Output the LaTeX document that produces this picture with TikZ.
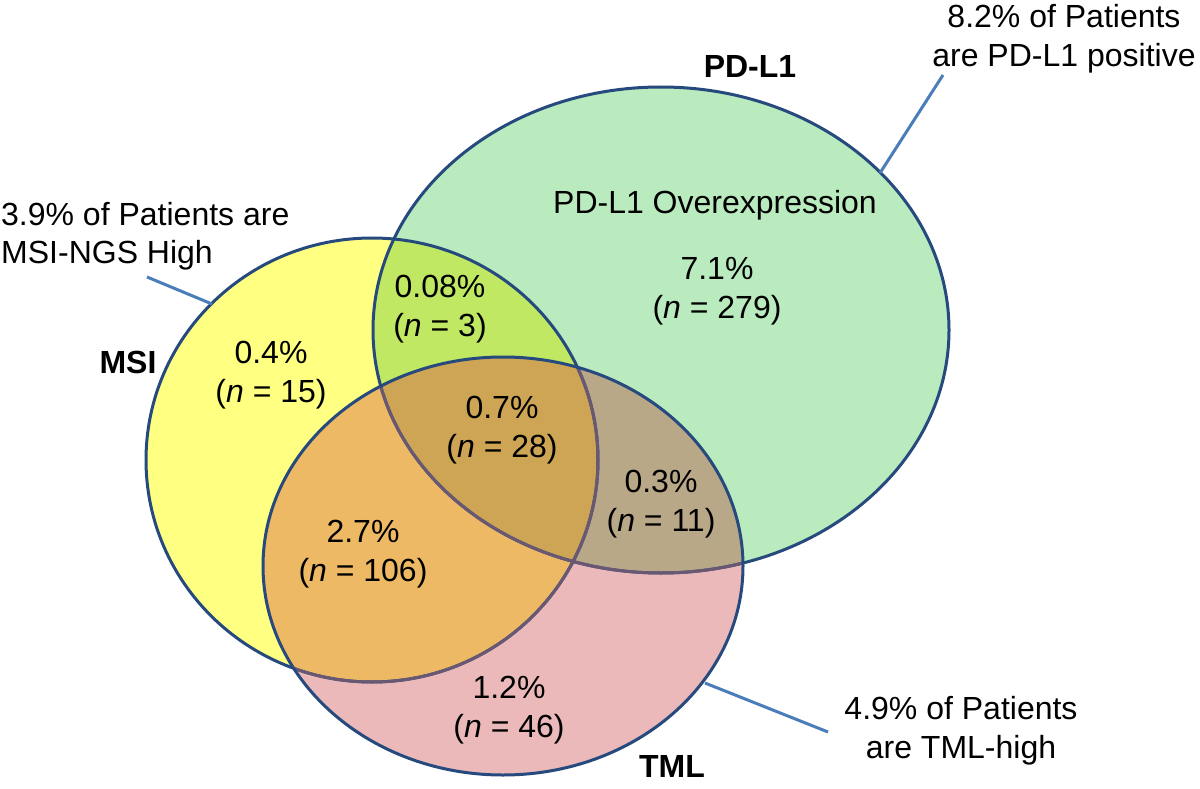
\documentclass[tikz,border=0pt]{standalone}
\usepackage{fontspec}
\setmainfont{Liberation Sans}
\definecolor{msiyellow}{HTML}{FFFF82}
\definecolor{pdgreen}{HTML}{B9EBBE}
\definecolor{tmlpink}{HTML}{EBB9B9}
\definecolor{mpgreen}{HTML}{C0E862}
\definecolor{mtorange}{HTML}{EEB964}
\definecolor{pttan}{HTML}{B9A887}
\definecolor{allgold}{HTML}{CDA555}
\definecolor{edgeblue}{HTML}{264A7D}
\definecolor{underpurple}{HTML}{6A5873}
\definecolor{calloutblue}{HTML}{4A7EBB}
\newcommand{\vlabc}[2]{\begin{tabular}[t]{@{}c@{}}#1\\#2\end{tabular}}
\newcommand{\vlabl}[2]{\begin{tabular}[t]{@{}l@{}}#1\\#2\end{tabular}}
\begin{document}
\begin{tikzpicture}[x=1pt,y=-1pt,
  lbl/.style={inner sep=0pt, anchor=base, font=\fontsize{32}{39}\selectfont},
  ttl/.style={inner sep=0pt, anchor=base, font=\fontsize{32}{39}\selectfont\bfseries},
  outl/.style={draw=edgeblue, line width=3pt},
  callout/.style={draw=calloutblue, line width=3pt}]
\useasboundingbox (0,0) rectangle (1200,789);
\fill[white] (0,0) rectangle (1200,789);
\coordinate (cM) at (372,460);
\coordinate (cP) at (661,330);
\coordinate (cT) at (503,566);
\def\msiE{(cM) ellipse [x radius=226pt, y radius=222pt]}
\def\pdE{(cP) ellipse [x radius=288pt, y radius=243pt]}
\def\tmlE{(cT) ellipse [x radius=240pt, y radius=209pt]}
% base fills
\fill[msiyellow] \msiE;
\fill[pdgreen] \pdE;
\fill[tmlpink] \tmlE;
\begin{scope}
  \clip \msiE;
  \fill[mpgreen] \pdE;
  \fill[mtorange] \tmlE;
\end{scope}
\begin{scope}
  \clip \pdE;
  \fill[pttan] \tmlE;
\end{scope}
\begin{scope}
  \clip \msiE;
  \clip \pdE;
  \fill[allgold] \tmlE;
\end{scope}
% outlines
\draw[outl] \msiE;
\draw[outl] \pdE;
\begin{scope}
  \clip \tmlE;
  \draw[outl, draw=underpurple] \msiE;
  \draw[outl, draw=underpurple] \pdE;
\end{scope}
\draw[outl] \tmlE;
% titles
\node[ttl] (pdTitle) at (750,78) {PD-L1};
\node[ttl] (msiTitle) at (128,373) {MSI};
\node[ttl] (tmlTitle) at (672,777) {TML};
% region labels
\node[lbl] (pdName) at (715,213) {PD-L1 Overexpression};
\node[lbl] (pdOnly) at (717,279) {\vlabc{7.1\%}{(\textit{n} = 279)}};
\node[lbl] (mpOnly) at (440,297) {\vlabc{0.08\%}{(\textit{n} = 3)}};
\node[lbl] (msiOnly) at (271,363) {\vlabc{0.4\%}{(\textit{n} = 15)}};
\node[lbl] (allThree) at (502,418) {\vlabc{0.7\%}{(\textit{n} = 28)}};
\node[lbl] (ptOnly) at (661,492) {\vlabc{0.3\%}{(\textit{n} = 11)}};
\node[lbl] (mtOnly) at (363,542) {\vlabc{2.7\%}{(\textit{n} = 106)}};
\node[lbl] (tmlOnly) at (509,698) {\vlabc{1.2\%}{(\textit{n} = 46)}};
% callouts
\node[lbl] (pdCall) at (1064,28) {\vlabc{8.2\% of Patients}{are PD-L1 positive}};
\node[lbl, anchor=base west] (msiCall) at (1,225) {\vlabl{3.9\% of Patients are}{MSI-NGS High}};
\node[lbl] (tmlCall) at (961,719) {\vlabc{4.9\% of Patients}{are TML-high}};
\coordinate (pdTip) at (943,75);
\coordinate (pdTouch) at (880,173);
\coordinate (msiTip) at (147,277);
\coordinate (msiTouch) at (212,304);
\coordinate (tmlTouch) at (705,683);
\coordinate (tmlTip) at (828,732);
\draw[callout] (pdTip) -- (pdTouch);
\draw[callout] (msiTip) -- (msiTouch);
\draw[callout] (tmlTouch) -- (tmlTip);
\end{tikzpicture}
\end{document}
